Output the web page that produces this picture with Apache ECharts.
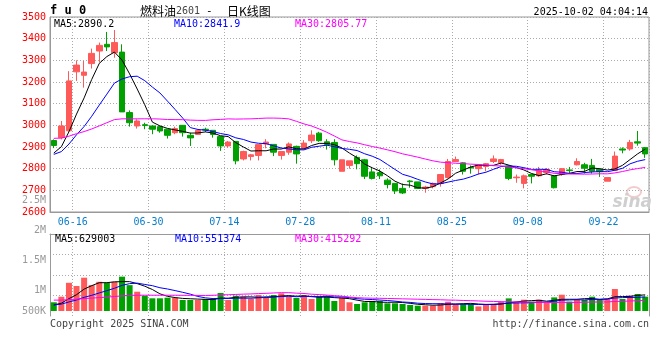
<!DOCTYPE html>
<html><head><meta charset="utf-8">
<script src="https://cdn.jsdelivr.net/npm/echarts@6/dist/echarts.min.js"></script>
<style>html,body{margin:0;padding:0;background:#fff}#c{width:660px;height:360px}</style>
</head><body><div id="c"></div>
<script>
const dates = ['06-12','06-13','06-16','06-17','06-18','06-19','06-20','06-23','06-24','06-25','06-26','06-27','06-30',
'07-01','07-02','07-03','07-04','07-07','07-08','07-09','07-10','07-11','07-14','07-15','07-16','07-17','07-18','07-21','07-22','07-23','07-24','07-25','07-28','07-29','07-30','07-31',
'08-01','08-04','08-05','08-06','08-07','08-08','08-11','08-12','08-13','08-14','08-15','08-18','08-19','08-20','08-21','08-22','08-25','08-26','08-27','08-28','08-29',
'09-01','09-02','09-03','09-04','09-05','09-08','09-09','09-10','09-11','09-12','09-15','09-16','09-17','09-18','09-19','09-22','09-23','09-24','09-25','09-26','09-29','09-30'];
const labelDates = ['06-16','06-30','07-14','07-28','08-11','08-25','09-08','09-22'];
const opens = [2930,2943,2975,3247,3231,3285,3343,3374,3335,3338, 3059,2997,3003,2997,2994,2982,2966,3000,2954,2958,
2982,2977,2948,2905,2926,2845,2856,2861,2914,2912, 2861,2876,2903,2894,2929,2964,2924,2921,2788,2815,
2852,2841,2785,2782,2747,2732,2709,2743,2739,2709, 2717,2732,2759,2833,2827,2806,2800,2810,2833,2827,
2812,2758,2732,2773,2767,2782,2767,2773,2794,2818, 2818,2815,2797,2742,2792,2891,2891,2924,2897];
const closes = [2907,2997,3205,3278,3246,3332,3369,3362,3382,3062, 3012,3020,2999,2982,2974,2954,2985,2966,2942,2977,
2978,2958,2905,2923,2836,2879,2864,2911,2923,2876, 2879,2914,2868,2918,2955,2929,2912,2841,2841,2836,
2823,2765,2755,2767,2727,2697,2688,2740,2709,2715, 2732,2773,2833,2842,2788,2803,2818,2823,2845,2842,
2755,2761,2767,2765,2792,2797,2712,2800,2791,2833, 2802,2788,2786,2759,2858,2886,2921,2918,2868];
const lows = [2895,2935,2970,3205,3174,3262,3290,3343,3312,3062, 2994,2985,2982,2959,2966,2939,2959,2948,2905,2958,
2969,2943,2882,2897,2820,2838,2838,2838,2894,2858, 2842,2864,2823,2894,2918,2924,2888,2815,2788,2800,
2797,2752,2750,2752,2709,2683,2683,2712,2706,2689, 2709,2717,2755,2830,2773,2777,2773,2788,2826,2818,
2747,2735,2709,2732,2762,2773,2709,2767,2777,2815, 2777,2777,2762,2742,2792,2871,2883,2906,2850];
const highs = [2935,3020,3250,3300,3297,3354,3382,3431,3440,3374, 3069,3028,3012,3000,2997,2982,2994,3000,2966,2982,
2989,2977,2951,2928,2926,2883,2868,2911,2936,2912, 2879,2921,2906,2932,2977,2970,2936,2936,2841,2836,
2861,2845,2808,2797,2755,2732,2732,2747,2739,2721, 2736,2773,2845,2856,2830,2815,2818,2826,2861,2845,
2815,2773,2773,2777,2808,2803,2770,2803,2808,2848, 2827,2845,2797,2759,2879,2898,2933,2974,2900];
const volumes = [340000,558000,1100000,975000,1300000,1010000,1140000,1100000,1140000,1340000,
1010000,753000,597000,495000,495000,519000,519000,429000,429000,429000,
468000,468000,702000,429000,597000,558000,468000,624000,507000,624000,
690000,558000,507000,597000,468000,558000,597000,390000,519000,340000,
273000,340000,390000,390000,300000,300000,273000,234000,207000,207000,
207000,313000,363000,273000,273000,273000,180000,273000,273000,363000,
492000,363000,441000,363000,441000,313000,531000,636000,367020,
445725,429000,558000,468000,468000,858000,468000,597000,663000,559015];
// closes / volumes of the sessions just before the first visible day (feed the moving averages at the left edge)
const priorCloses = [2960,2945,2930,2955,2970,2940,2925,2950,2958,3010,3025,2990,2985,3005,3020,2995,2980,3000,3012,2985,
2870,2855,2850,2865,2860,2850,2860,2870,2873];
const priorVolumes = [560000,480000,530000,510000,545000,500000,525000,490000,540000,515000,505000,535000,520000,495000,550000,510000,530000,500000,525000,515000,
250000,235000,240000,245000,230000,205000,215000,200000,210000];
const volTickLabels = ['500K','1M','1.5M','2M','2.5M'];

function movingAvg(vals, prior, n) {
  const all = prior.concat(vals);
  return vals.map((v, i) => {
    const k = prior.length + i;
    let s = 0;
    for (let j = k - n + 1; j <= k; j++) s += all[j];
    return s / n;
  });
}
const ma5 = movingAvg(closes, priorCloses, 5);
const ma10 = movingAvg(closes, priorCloses, 10);
const ma30 = movingAvg(closes, priorCloses, 30);
const vma5 = movingAvg(volumes, priorVolumes, 5);
const vma10 = movingAvg(volumes, priorVolumes, 10);
const vma30 = movingAvg(volumes, priorVolumes, 30);
const last = dates.length - 1;

const MONO = '"DejaVu Sans Mono", monospace';
const UP = '#ff5a5a', DOWN = '#00a000';
const labelSet = new Set(labelDates);
const gridFn = (idx) => idx > 0 && labelSet.has(dates[idx - 1]);
const dotted = { color: '#aaa', type: [1, 2], width: 1 };

const chart = echarts.init(document.getElementById('c'), null, { renderer: 'canvas' });
const txt = (x, y, text, fill, opts = {}) => ({
  type: 'text', x, y, silent: true, z: opts.z || 10,
  style: { text, fill, font: opts.font || ('10px ' + MONO), textAlign: opts.align || 'left', textVerticalAlign: 'middle' }
});

chart.setOption({
  animation: false,
  backgroundColor: '#fff',
  grid: [
    { left: 50, right: 11, top: 17, height: 195, show: true, borderColor: '#999', borderWidth: 1, backgroundColor: 'transparent' },
    { left: 50, right: 11, top: 234, height: 82 },
    { left: 50, right: 11, top: 200, height: 121 }
  ],
  xAxis: [
    { type: 'category', gridIndex: 0, data: dates, boundaryGap: true,
      axisLine: { lineStyle: { color: '#999' } }, axisTick: { show: false },
      axisLabel: { interval: (i, v) => labelSet.has(v), color: '#0a7ecc', fontFamily: MONO, fontSize: 10, margin: 5, padding: [0, 0, 0, 7.6] },
      splitLine: { show: true, interval: gridFn, lineStyle: dotted } },
    { type: 'category', gridIndex: 1, data: dates, boundaryGap: true, position: 'top',
      axisLine: { show: true, onZero: false, lineStyle: { color: '#999' } }, axisTick: { show: false }, axisLabel: { show: false },
      splitLine: { show: true, interval: gridFn, lineStyle: dotted } },
    { type: 'category', gridIndex: 2, data: dates, show: false }
  ],
  yAxis: [
    { type: 'value', gridIndex: 0, min: 2600, max: 3500, interval: 100,
      axisLine: { show: true, lineStyle: { color: '#999' } }, axisTick: { show: false },
      axisLabel: { color: '#f00', fontFamily: MONO, fontSize: 10, margin: 4, padding: [0, 0, 3, 0], formatter: (v) => String(v) },
      splitLine: { show: true, lineStyle: dotted } },
    { type: 'value', gridIndex: 1, min: -195000, max: 3005000, interval: 800000,
      axisLine: { show: true, lineStyle: { color: '#999' } }, axisTick: { show: false }, axisLabel: { show: false },
      splitLine: { show: true, showMinLine: false, showMaxLine: false, lineStyle: dotted } },
    { type: 'value', gridIndex: 1, position: 'right', min: 0, max: 1,
      axisLine: { show: true, lineStyle: { color: '#999' } }, axisTick: { show: false }, axisLabel: { show: false }, splitLine: { show: false } },
    { type: 'value', gridIndex: 2, min: 500000, max: 2500000, interval: 500000,
      axisLine: { show: false }, axisTick: { show: false }, splitLine: { show: false },
      axisLabel: { color: '#999', fontFamily: MONO, fontSize: 10, margin: 4,
        formatter: (v) => { const k = Math.round((v - 500000) / 500000); return k === 0 ? '{lift|' + volTickLabels[k] + '}' : volTickLabels[k]; },
        rich: { lift: { color: '#999', fontFamily: MONO, fontSize: 10, padding: [0, 0, 20, 0] } } } }
  ],
  series: [
    { type: 'candlestick', xAxisIndex: 0, yAxisIndex: 0, barWidth: 6,
      data: dates.map((d, i) => [opens[i], closes[i], lows[i], highs[i]]),
      itemStyle: { color: UP, color0: DOWN, borderColor: UP, borderColor0: DOWN, borderWidth: 1 } },
    { type: 'line', xAxisIndex: 0, yAxisIndex: 0, data: ma5, symbol: 'none', lineStyle: { color: '#000', width: 1 }, z: 3 },
    { type: 'line', xAxisIndex: 0, yAxisIndex: 0, data: ma10, symbol: 'none', lineStyle: { color: '#0000ff', width: 1 }, z: 3 },
    { type: 'line', xAxisIndex: 0, yAxisIndex: 0, data: ma30, symbol: 'none', lineStyle: { color: '#ff00ff', width: 1 }, z: 3 },
    { type: 'bar', xAxisIndex: 1, yAxisIndex: 1, barWidth: 6,
      data: volumes.map((v, i) => ({ value: v, itemStyle: { color: closes[i] >= opens[i] ? UP : DOWN } })) },
    { type: 'line', xAxisIndex: 1, yAxisIndex: 1, data: vma5, symbol: 'none', lineStyle: { color: '#000', width: 1 }, z: 3 },
    { type: 'line', xAxisIndex: 1, yAxisIndex: 1, data: vma10, symbol: 'none', lineStyle: { color: '#0000ff', width: 1 }, z: 3 },
    { type: 'line', xAxisIndex: 1, yAxisIndex: 1, data: vma30, symbol: 'none', lineStyle: { color: '#ff00ff', width: 1 }, z: 3 }
  ],
  graphic: [
    { type: 'ellipse', shape: { cx: 634, cy: 192, rx: 7, ry: 5 }, style: { fill: 'none', stroke: '#f2cccc', lineWidth: 2 }, z: 0, silent: true },
    txt(652, 203, 'sina', '#cfcfcf', { font: 'italic bold 17px "DejaVu Sans"', align: 'right', z: 0 }),
    txt(50, 11, 'f u 0', '#000', { font: 'bold 12px ' + MONO }),
    txt(140, 11, '燃料油', '#000', { font: '12px "Noto Sans CJK SC"' }),
    txt(176, 11, '2601', '#444', { font: '10px ' + MONO }),
    txt(206, 11, '-', '#000', { font: '11px ' + MONO }),
    txt(227, 11, '日K线图', '#000', { font: '12px "Noto Sans CJK SC"' }),
    txt(648, 12, '2025-10-02 04:04:14', '#000', { align: 'right' }),
    txt(54, 24, 'MA5:' + ma5[last].toFixed(1), '#000'),
    txt(174, 24, 'MA10:' + ma10[last].toFixed(1), '#0000ff'),
    txt(295, 24, 'MA30:' + ma30[last].toFixed(2), '#ff00ff'),
    txt(55, 239, 'MA5:' + Math.round(vma5[last]), '#000'),
    txt(175, 239, 'MA10:' + Math.round(vma10[last]), '#0000ff'),
    txt(295, 239, 'MA30:' + Math.round(vma30[last]), '#ff00ff'),
    txt(50, 324, 'Copyright 2025 SINA.COM', '#444'),
    txt(649, 324, 'http://finance.sina.com.cn', '#444', { align: 'right' })
  ]
});
</script></body></html>
